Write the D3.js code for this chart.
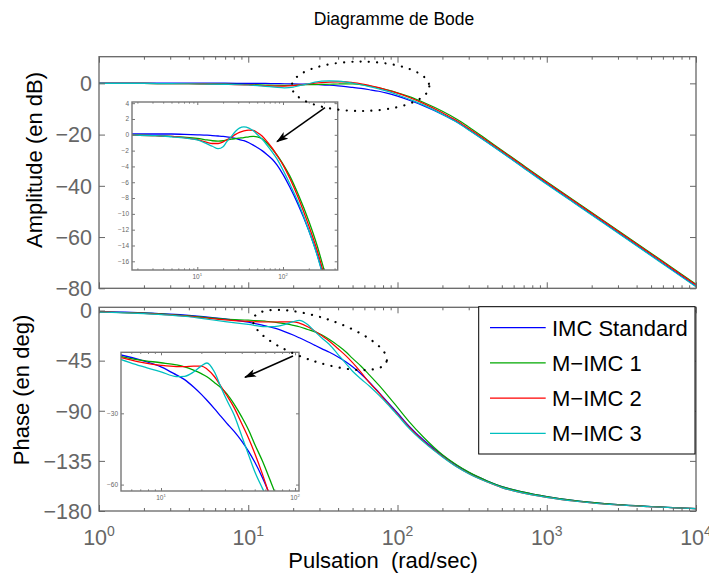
<!DOCTYPE html>
<html>
<head>
<meta charset="utf-8">
<script src="https://cdn.jsdelivr.net/npm/d3@7/dist/d3.min.js"></script>
<style>
  body { margin: 0; background: #fff; }
  svg text { font-family: "Liberation Sans", Arial, Helvetica, sans-serif; }
</style>
</head>
<body>
<svg id="bode" width="709" height="576"></svg>
<script>
// frequency grid (rad/sec) shared by every curve
var freq = [1, 1.5, 2, 3, 4, 5, 7, 10, 13, 15, 17.5, 20, 22, 25, 28, 31, 35, 40, 45, 50,
            57, 65, 75, 85, 100, 120, 150, 200, 250, 300, 400, 500, 700, 1000, 1500, 2000,
            3000, 5000, 7000, 10000];

// amplitude (dB)
var ampStandard = [0.1, 0.1, 0.1, 0.1, 0.1, 0.1, 0.05, 0, -0.05, -0.1, -0.15, -0.2, -0.25, -0.35, -0.45, -0.6, -0.75, -1.0, -1.3, -1.6,
                   -2.0, -2.5, -3.1, -3.8, -5.0, -6.6, -8.8, -12.1, -15.1, -18.1, -23.0, -26.9, -32.9, -39.2, -46.2, -51.2,
                   -58.2, -67.1, -73.0, -79.2];
var ampMimc1 = [0, -0.02, -0.05, -0.1, -0.15, -0.2, -0.3, -0.45, -0.65, -0.75, -0.8, -0.75, -0.65, -0.55, -0.48, -0.42, -0.35, -0.25, -0.2, -0.25,
                -0.5, -1.05, -1.8, -2.55, -3.7, -5.2, -7.5, -10.9, -14.0, -17.0, -22.1, -26.1, -32.1, -38.4, -45.4, -50.4,
                -57.4, -66.3, -72.2, -78.4];
var ampMimc2 = [0, -0.02, -0.05, -0.1, -0.15, -0.2, -0.35, -0.6, -0.95, -1.1, -1.1, -0.9, -0.65, -0.3, 0.05, 0.3, 0.5, 0.6, 0.55, 0.3,
                -0.15, -0.85, -1.7, -2.6, -3.8, -5.5, -7.9, -11.5, -14.6, -17.6, -22.5, -26.4, -32.4, -38.7, -45.7, -50.7,
                -57.7, -66.6, -72.5, -78.7];
var ampMimc3 = [0, -0.02, -0.05, -0.1, -0.15, -0.25, -0.4, -0.65, -1.15, -1.45, -1.75, -1.5, -0.9, -0.2, 0.45, 0.85, 1.0, 0.85, 0.5, 0.05,
                -0.55, -1.3, -2.2, -3.05, -4.45, -6.2, -8.5, -12.1, -15.2, -18.2, -23.1, -27.0, -33.0, -39.4, -46.4, -51.4,
                -58.4, -67.3, -73.2, -79.4];

// phase (deg)
var phStandard = [-1.0, -1.5, -2.1, -3.2, -4.3, -5.4, -7.5, -10.4, -13.8, -15.8, -18.9, -22, -24.5, -28, -31.3, -34.2, -37.5, -41.7, -46, -50.5,
                  -57, -64.5, -73.5, -81.5, -92, -104, -116.5, -130, -139.2, -145.3, -153, -158, -163, -167, -170.5, -172.3,
                  -174.3, -176, -177, -177.8];
var phMimc1 = [-1.2, -1.8, -2.4, -3.6, -4.8, -6.0, -7.6, -8.7, -9.6, -10.4, -11.8, -13.3, -14.6, -17, -19.2, -21.8, -26, -31.5, -37, -43,
               -50, -58, -67, -75.5, -87, -100, -114, -129.5, -138.8, -145.1, -153, -158, -163, -167, -170.5, -172.3,
               -174.3, -176, -177, -177.8];
var phMimc2 = [-1.3, -2.0, -2.6, -3.9, -5.2, -6.5, -8.4, -9.8, -10.3, -10.3, -10.1, -10.1, -11.3, -14.5, -18.6, -22.5, -27.5, -34.3, -40.5, -46.8,
               -55.5, -65, -74, -82.5, -93, -105, -117.5, -131, -140.2, -146.3, -154, -159, -164, -167.8, -171, -172.8,
               -174.6, -176.2, -177.1, -177.8];
var phMimc3 = [-1.4, -2.1, -2.8, -4.2, -5.6, -7.3, -10.0, -12.5, -14.5, -14.4, -12.6, -10.0, -8.8, -12.5, -19.0, -24.5, -30.5, -39.5, -47.5, -54.5,
               -61.5, -68, -76, -83.5, -94, -106, -118.2, -131.5, -140.5, -146.5, -154, -159, -164, -167.8, -171, -172.8,
               -174.6, -176.2, -177.1, -177.8];

var names = ["IMC Standard", "M\u2212IMC 1", "M\u2212IMC 2", "M\u2212IMC 3"];
var colors = ["#0000ff", "#00a800", "#ff0000", "#00bfbf"];

var ampTicks = [0, -20, -40, -60, -80];
var phaseTicks = [0, -45, -90, -135, -180];
var zoomAmpTicks = [4, 2, 0, -2, -4, -6, -8, -10, -12, -14, -16];
var zoomPhaseTicks = [-30, -60];

var ampSeries = [ampStandard, ampMimc1, ampMimc2, ampMimc3];
var phSeries = [phStandard, phMimc1, phMimc2, phMimc3];

var svg = d3.select("#bode");
var grey = "#666";
var defs = svg.append("defs");

defs.append("marker")
    .attr("id", "head")
    .attr("markerUnits", "userSpaceOnUse")
    .attr("viewBox", "0 0 12 8")
    .attr("refX", 11).attr("refY", 4)
    .attr("markerWidth", 12).attr("markerHeight", 8)
    .attr("orient", "auto")
    .append("path")
    .attr("d", "M0,0 L12,4 L0,8 L3,4 Z")
    .attr("fill", "#000");

function isDecade(t) {
    var l = Math.log10(t);
    return Math.abs(l - Math.round(l)) < 1e-6;
}

var clipCount = 0;

// one framed log-x axes box with its curves and inward ticks
function panel(xs, ys, yTicks, series, cfg) {
    var g = svg.append("g");
    var x0 = xs.range()[0], x1 = xs.range()[1];
    var yb = ys.range()[0], yt = ys.range()[1];

    g.append("rect")
        .attr("x", x0).attr("y", yt)
        .attr("width", x1 - x0).attr("height", yb - yt)
        .attr("fill", "#fff");

    var id = "clip" + (clipCount++);
    defs.append("clipPath").attr("id", id)
        .append("rect")
        .attr("x", x0).attr("y", yt)
        .attr("width", x1 - x0).attr("height", yb - yt);

    var line = d3.line()
        .x(function(d) { return xs(d[0]); })
        .y(function(d) { return ys(d[1]); })
        .curve(d3.curveMonotoneX);

    g.append("g")
        .attr("clip-path", "url(#" + id + ")")
        .selectAll("path")
        .data(series)
        .enter()
        .append("path")
        .attr("d", function(s) { return line(freq.map(function(f, i) { return [f, s[i]]; })); })
        .attr("fill", "none")
        .attr("stroke", function(s, i) { return colors[i]; })
        .attr("stroke-width", cfg.lw);

    var all = xs.ticks();
    var majors = all.filter(isDecade);
    var minors = all.filter(function(t) { return !isDecade(t); });

    var axes = [
        [d3.axisBottom(xs).tickValues(minors).tickSize(-cfg.minor), "translate(0," + yb + ")"],
        [d3.axisTop(xs).tickValues(minors).tickSize(-cfg.minor), "translate(0," + yt + ")"],
        [d3.axisBottom(xs).tickValues(majors).tickSize(-cfg.major), "translate(0," + yb + ")"],
        [d3.axisTop(xs).tickValues(majors).tickSize(-cfg.major), "translate(0," + yt + ")"],
        [d3.axisLeft(ys).tickValues(yTicks).tickSize(-cfg.major), "translate(" + x0 + ",0)"],
        [d3.axisRight(ys).tickValues(yTicks).tickSize(-cfg.major), "translate(" + x1 + ",0)"]
    ];
    axes.forEach(function(a) {
        var ag = g.append("g").attr("transform", a[1]).call(a[0].tickFormat(""));
        ag.select(".domain").remove();
        ag.selectAll(".tick line").attr("stroke", cfg.frame).attr("stroke-width", 1);
    });

    g.append("rect")
        .attr("x", x0).attr("y", yt)
        .attr("width", x1 - x0).attr("height", yb - yt)
        .attr("fill", "none")
        .attr("stroke", cfg.frame)
        .attr("stroke-width", cfg.fw);

    // y tick labels
    g.selectAll(".ylab")
        .data(yTicks)
        .enter()
        .append("text")
        .attr("x", x0 - cfg.ypad)
        .attr("y", function(d) { return ys(d); })
        .attr("dy", "0.36em")
        .attr("text-anchor", "end")
        .attr("fill", grey)
        .style("font-size", cfg.fs + "px")
        .text(function(d) { return d3.format("d")(d); });

    // x tick labels as 10^n
    if (cfg.xlabels) {
        var lab = g.selectAll(".xlab")
            .data(majors)
            .enter()
            .append("text")
            .attr("x", function(d) { return xs(d); })
            .attr("y", yb + cfg.xpad)
            .attr("text-anchor", "middle")
            .attr("fill", grey)
            .style("font-size", cfg.fs + "px");
        lab.append("tspan").text("10");
        lab.append("tspan")
            .attr("dy", -cfg.fs * 0.42)
            .style("font-size", (cfg.fs * 0.65) + "px")
            .text(function(d) { return Math.round(Math.log10(d)); });
    }
    return g;
}

var x = d3.scaleLog().domain([1, 10000]).range([99, 696]);
var yAmp = d3.scaleLinear().domain([-80, 10.4]).range([288.3, 56.7]);
var yPh = d3.scaleLinear().domain([-180, 2.9]).range([511, 307.3]);

var mainCfg = {lw: 1.2, minor: 3, major: 6, frame: "#666", fw: 1.3, fs: 21.5, ypad: 7, xpad: 34, xlabels: false};

// title
svg.append("text")
    .attr("x", 394)
    .attr("y", 25)
    .attr("text-anchor", "middle")
    .style("font-size", "17.5px")
    .text("Diagramme de Bode");

// amplitude
panel(x, yAmp, ampTicks, ampSeries, mainCfg);

// phase
panel(x, yPh, phaseTicks, phSeries, Object.assign({}, mainCfg, {xlabels: true}));

// axis titles
svg.append("text")
    .attr("transform", "translate(42," + 160 + ") rotate(-90)")
    .attr("text-anchor", "middle")
    .style("font-size", "22px")
    .text("Amplitude (en dB)");

svg.append("text")
    .attr("transform", "translate(29," + 390 + ") rotate(-90)")
    .attr("text-anchor", "middle")
    .style("font-size", "22px")
    .text("Phase (en deg)");

svg.append("text")
    .attr("x", 383)
    .attr("y", 568)
    .attr("text-anchor", "middle")
    .style("font-size", "22px")
    .style("white-space", "pre")
    .text("Pulsation  (rad/sec)");

// zoomed insets
var insetCfg = {lw: 1.3, minor: 1.6, major: 3, frame: "#777", fw: 1.4, fs: 6.5, ypad: 3, xpad: 9, xlabels: true};

var xZoomA = d3.scaleLog().domain([1.73, 435]).range([132, 337.7]);
var yZoomA = d3.scaleLinear().domain([-17.1, 4.15]).range([270, 102]);
panel(xZoomA, yZoomA, zoomAmpTicks, ampSeries, insetCfg);

var xZoomP = d3.scaleLog().domain([5.03, 107]).range([121, 299]);
var yZoomP = d3.scaleLinear().domain([-62.7, -4.3]).range([491, 352.3]);
panel(xZoomP, yZoomP, zoomPhaseTicks, phSeries, insetCfg);

// dotted ellipses marking the zoomed regions
svg.append("ellipse")
    .attr("cx", 360.5).attr("cy", 86.3).attr("rx", 68.8).attr("ry", 24.7)
    .attr("fill", "none").attr("stroke", "#000").attr("stroke-width", 2.2)
    .attr("stroke-linecap", "round").attr("stroke-dasharray", "0.1 8.2");

svg.append("ellipse")
    .attr("transform", "translate(320,340) rotate(18)")
    .attr("rx", 70).attr("ry", 22)
    .attr("fill", "none").attr("stroke", "#000").attr("stroke-width", 2.2)
    .attr("stroke-linecap", "round").attr("stroke-dasharray", "0.1 8.2");

// arrows
svg.append("line")
    .attr("x1", 325).attr("y1", 107.7).attr("x2", 277).attr("y2", 141.7)
    .attr("stroke", "#000").attr("stroke-width", 1.5)
    .attr("marker-end", "url(#head)");

svg.append("line")
    .attr("x1", 293).attr("y1", 356).attr("x2", 245).attr("y2", 377.3)
    .attr("stroke", "#000").attr("stroke-width", 1.5)
    .attr("marker-end", "url(#head)");

// legend
var legend = svg.append("g");
legend.append("rect")
    .attr("x", 478.7).attr("y", 306.7)
    .attr("width", 216.3).attr("height", 147.3)
    .attr("fill", "#fff").attr("stroke", "#000").attr("stroke-width", 1);

var rowY = d3.scalePoint().domain(names).range([327.7, 433.3]);
var rows = legend.selectAll(".row")
    .data(names)
    .enter()
    .append("g")
    .attr("transform", function(d) { return "translate(0," + rowY(d) + ")"; });
rows.append("line")
    .attr("x1", 490).attr("x2", 545.7)
    .attr("stroke", function(d, i) { return colors[i]; })
    .attr("stroke-width", 1.2);
rows.append("text")
    .attr("x", 552)
    .attr("dy", "0.36em")
    .style("font-size", "22px")
    .text(function(d) { return d; });
</script>
</body>
</html>
